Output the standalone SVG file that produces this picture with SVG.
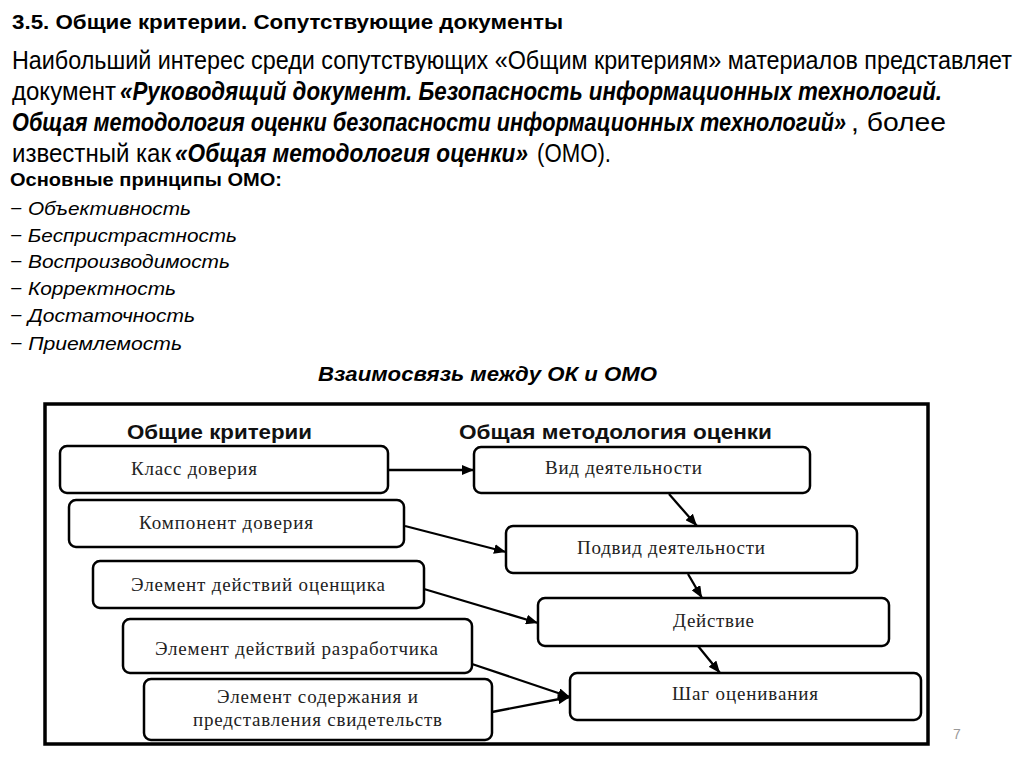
<svg xmlns="http://www.w3.org/2000/svg" width="1024" height="768" viewBox="0 0 1024 768">
<style>
.t{font-family:"Liberation Sans",Arial,sans-serif;fill:#000}
.b{font-weight:bold}
.i{font-style:italic}
.bx{fill:#fff;stroke:#000;stroke-width:2.5}
.st{font-family:"Liberation Serif","Times New Roman",serif;font-size:19px;fill:#222}
.hd{font-family:"Liberation Sans",Arial,sans-serif;font-size:21px;font-weight:bold;fill:#111}
.cn{stroke:#000;stroke-width:2.3;fill:none}
</style>
<defs>
<marker id="ah" viewBox="0 0 12 10" refX="12" refY="5" markerWidth="12" markerHeight="10" markerUnits="userSpaceOnUse" orient="auto">
<path d="M0,0 L12,5 L0,10 Z" fill="#000"/>
</marker>
</defs>
<rect width="1024" height="768" fill="#fff"/>
<g id="text-block">
<text class="t b" x="12" y="29" font-size="21" textLength="551" lengthAdjust="spacingAndGlyphs">3.5. Общие критерии. Сопутствующие документы</text>
<text class="t" x="12" y="69" font-size="25" textLength="1000" lengthAdjust="spacingAndGlyphs">Наибольший интерес среди сопутствующих «Общим критериям» материалов представляет</text>
<text class="t" x="12" y="100" font-size="25" textLength="104" lengthAdjust="spacingAndGlyphs">документ</text>
<text class="t b i" x="120" y="100" font-size="25" textLength="822" lengthAdjust="spacingAndGlyphs">«Руководящий документ. Безопасность информационных технологий.</text>
<text class="t b i" x="12" y="131" font-size="25" textLength="834" lengthAdjust="spacingAndGlyphs">Общая методология оценки безопасности информационных технологий»</text>
<text class="t" x="851" y="131" font-size="25" textLength="95" lengthAdjust="spacingAndGlyphs">, более</text>
<text class="t" x="12" y="162" font-size="25" textLength="159" lengthAdjust="spacingAndGlyphs">известный как</text>
<text class="t b i" x="175" y="162" font-size="25" textLength="353" lengthAdjust="spacingAndGlyphs">«Общая методология оценки»</text>
<text class="t" x="537" y="162" font-size="25" textLength="74" lengthAdjust="spacingAndGlyphs">(ОМО).</text>
<text class="t b" x="10" y="186" font-size="19" textLength="272" lengthAdjust="spacingAndGlyphs">Основные принципы ОМО:</text>
<text class="t i" x="10" y="215" font-size="19" textLength="181" lengthAdjust="spacingAndGlyphs">− Объективность</text>
<text class="t i" x="10" y="242" font-size="19" textLength="227" lengthAdjust="spacingAndGlyphs">− Беспристрастность</text>
<text class="t i" x="10" y="268" font-size="19" textLength="220" lengthAdjust="spacingAndGlyphs">− Воспроизводимость</text>
<text class="t i" x="10" y="295" font-size="19" textLength="166" lengthAdjust="spacingAndGlyphs">− Корректность</text>
<text class="t i" x="10" y="322" font-size="19" textLength="185" lengthAdjust="spacingAndGlyphs">− Достаточность</text>
<text class="t i" x="10" y="350" font-size="19" textLength="172" lengthAdjust="spacingAndGlyphs">− Приемлемость</text>
<text class="t b i" x="318" y="381" font-size="21" textLength="339" lengthAdjust="spacingAndGlyphs">Взаимосвязь между ОК и ОМО</text>
<text x="957" y="739" font-family="Liberation Sans,Arial,sans-serif" font-size="14" fill="#999" text-anchor="middle">7</text>
</g>
<g id="frame">
<rect x="45" y="404" width="883" height="340" fill="#fff" stroke="#000" stroke-width="3.5"/>
<text class="hd" x="127" y="439" textLength="185" lengthAdjust="spacingAndGlyphs">Общие критерии</text>
<text class="hd" x="459" y="439" textLength="313" lengthAdjust="spacingAndGlyphs">Общая методология оценки</text>
</g>
<g id="connectors">
<line class="cn" x1="388" y1="470" x2="474" y2="470" marker-end="url(#ah)"/>
<line class="cn" x1="405" y1="526" x2="506" y2="552" marker-end="url(#ah)"/>
<line class="cn" x1="424" y1="589" x2="538" y2="623" marker-end="url(#ah)"/>
<line class="cn" x1="472" y1="664" x2="570" y2="697" marker-end="url(#ah)"/>
<line class="cn" x1="492" y1="712" x2="570" y2="697" marker-end="url(#ah)"/>
<line class="cn" x1="669" y1="494" x2="697" y2="526" marker-end="url(#ah)"/>
<line class="cn" x1="688" y1="574" x2="702" y2="598" marker-end="url(#ah)"/>
<line class="cn" x1="698" y1="646" x2="720" y2="673" marker-end="url(#ah)"/>
</g>
<g id="n-klass">
<rect class="bx" x="60" y="446" width="328" height="47" rx="7"/>
<text class="st" x="131" y="475" textLength="126" lengthAdjust="spacing">Класс доверия</text>
</g>
<g id="n-komponent">
<rect class="bx" x="69" y="500" width="335" height="47" rx="7"/>
<text class="st" x="139" y="529" textLength="174" lengthAdjust="spacing">Компонент доверия</text>
</g>
<g id="n-ocenshik">
<rect class="bx" x="93" y="561" width="331" height="47" rx="7"/>
<text class="st" x="131" y="591" textLength="254" lengthAdjust="spacing">Элемент действий оценщика</text>
</g>
<g id="n-razrab">
<rect class="bx" x="123" y="619" width="349" height="54" rx="7"/>
<text class="st" x="155" y="655" textLength="283" lengthAdjust="spacing">Элемент действий разработчика</text>
</g>
<g id="n-soderzh">
<rect class="bx" x="144" y="679" width="348" height="61" rx="7"/>
<text class="st" x="217" y="703" textLength="201" lengthAdjust="spacing">Элемент содержания и</text>
<text class="st" x="193" y="726" textLength="249" lengthAdjust="spacing">представления свидетельств</text>
</g>
<g id="n-vid">
<rect class="bx" x="474" y="447" width="336" height="46" rx="7"/>
<text class="st" x="545" y="474" textLength="157" lengthAdjust="spacing">Вид деятельности</text>
</g>
<g id="n-podvid">
<rect class="bx" x="506" y="526" width="351" height="47" rx="7"/>
<text class="st" x="577" y="554" textLength="188" lengthAdjust="spacing">Подвид деятельности</text>
</g>
<g id="n-deistvie">
<rect class="bx" x="538" y="598" width="351" height="48" rx="7"/>
<text class="st" x="673" y="627" textLength="81" lengthAdjust="spacing">Действие</text>
</g>
<g id="n-shag">
<rect class="bx" x="570" y="673" width="351" height="47" rx="7"/>
<text class="st" x="672" y="700" textLength="146" lengthAdjust="spacing">Шаг оценивания</text>
</g>
</svg>
